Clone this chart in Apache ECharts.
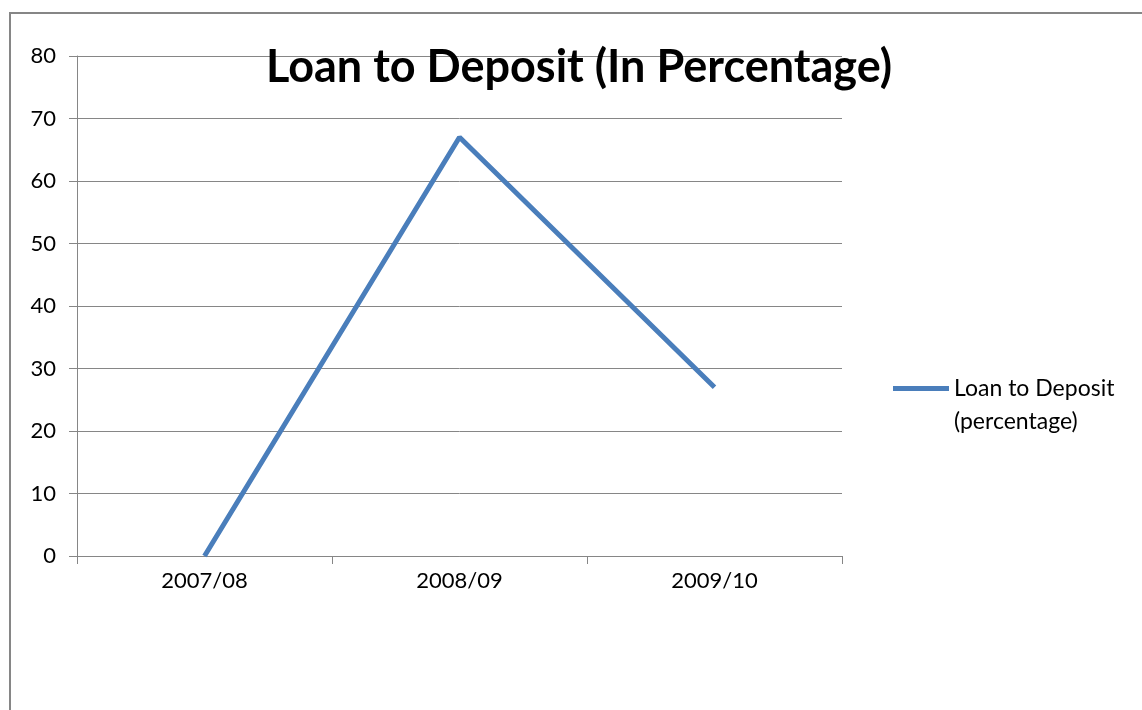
<!DOCTYPE html>
<html>
<head>
<meta charset="utf-8">
<script src="https://cdn.jsdelivr.net/npm/echarts@6/dist/echarts.min.js"></script>
<style>html,body{margin:0;padding:0;background:#fff;}#chart{width:1142px;height:710px;}</style>
</head>
<body>
<div id="chart"></div>
<script>
const titleText = 'Loan to Deposit (In Percentage)';
const categories = ['2007/08', '2008/09', '2009/10'];
const seriesName = 'Loan to Deposit (percentage)';
const values = [0, 67, 27];
const yTicks = { min: 0, max: 80, interval: 10 };

const font = 'Lato, Carlito, Calibri, "Open Sans", sans-serif';
const gray = '#868686';
const chart = echarts.init(document.getElementById('chart'), null, { renderer: 'canvas' });
chart.setOption({
  animation: false,
  backgroundColor: '#fff',
  textStyle: { fontFamily: font },
  title: {
    text: titleText,
    left: 574, top: 40, textAlign: 'center',
    textStyle: { fontFamily: font, fontSize: 45, fontWeight: 'bold', color: '#000' }
  },
  graphic: [{
    type: 'rect', silent: true, z: -1,
    shape: { x: 10, y: 13, width: 1150, height: 720 },
    style: { fill: 'none', stroke: gray, lineWidth: 2 }
  }],
  grid: { left: 77, top: 56, right: 300, bottom: 154, containLabel: false },
  legend: {
    left: 888, top: 339,
    itemWidth: 56, itemHeight: 5, itemGap: 0,
    icon: 'path://M0,0 L56,0 L56,5 L0,5 Z',
    formatter: function () { return '{a| }\n{a|Loan to Deposit}\n{a|(percentage)}'; },
    textStyle: {
      fontFamily: font, fontSize: 23, color: '#000',
      rich: { a: { fontFamily: font, fontSize: 23, color: '#000', lineHeight: 33 } }
    },
    data: [seriesName]
  },
  xAxis: {
    type: 'category', data: categories, boundaryGap: true,
    axisLine: { lineStyle: { color: gray, width: 1 } },
    axisTick: { show: true, length: 8, lineStyle: { color: gray } },
    axisLabel: { fontFamily: font, fontSize: 22, color: '#000', margin: 14 }
  },
  yAxis: {
    type: 'value', min: yTicks.min, max: yTicks.max, interval: yTicks.interval,
    axisLine: { show: true, lineStyle: { color: gray, width: 1 } },
    axisTick: { show: true, length: 8, lineStyle: { color: gray } },
    splitLine: { lineStyle: { color: gray, width: 1 } },
    axisLabel: { fontFamily: font, fontSize: 22, color: '#000', margin: 21 }
  },
  series: [{
    name: seriesName, type: 'line', data: values,
    symbol: 'none', showSymbol: false,
    color: '#4a7ebb',
    lineStyle: { color: '#4a7ebb', width: 5 },
    itemStyle: { color: '#4a7ebb' }
  }]
});
</script>
</body>
</html>
